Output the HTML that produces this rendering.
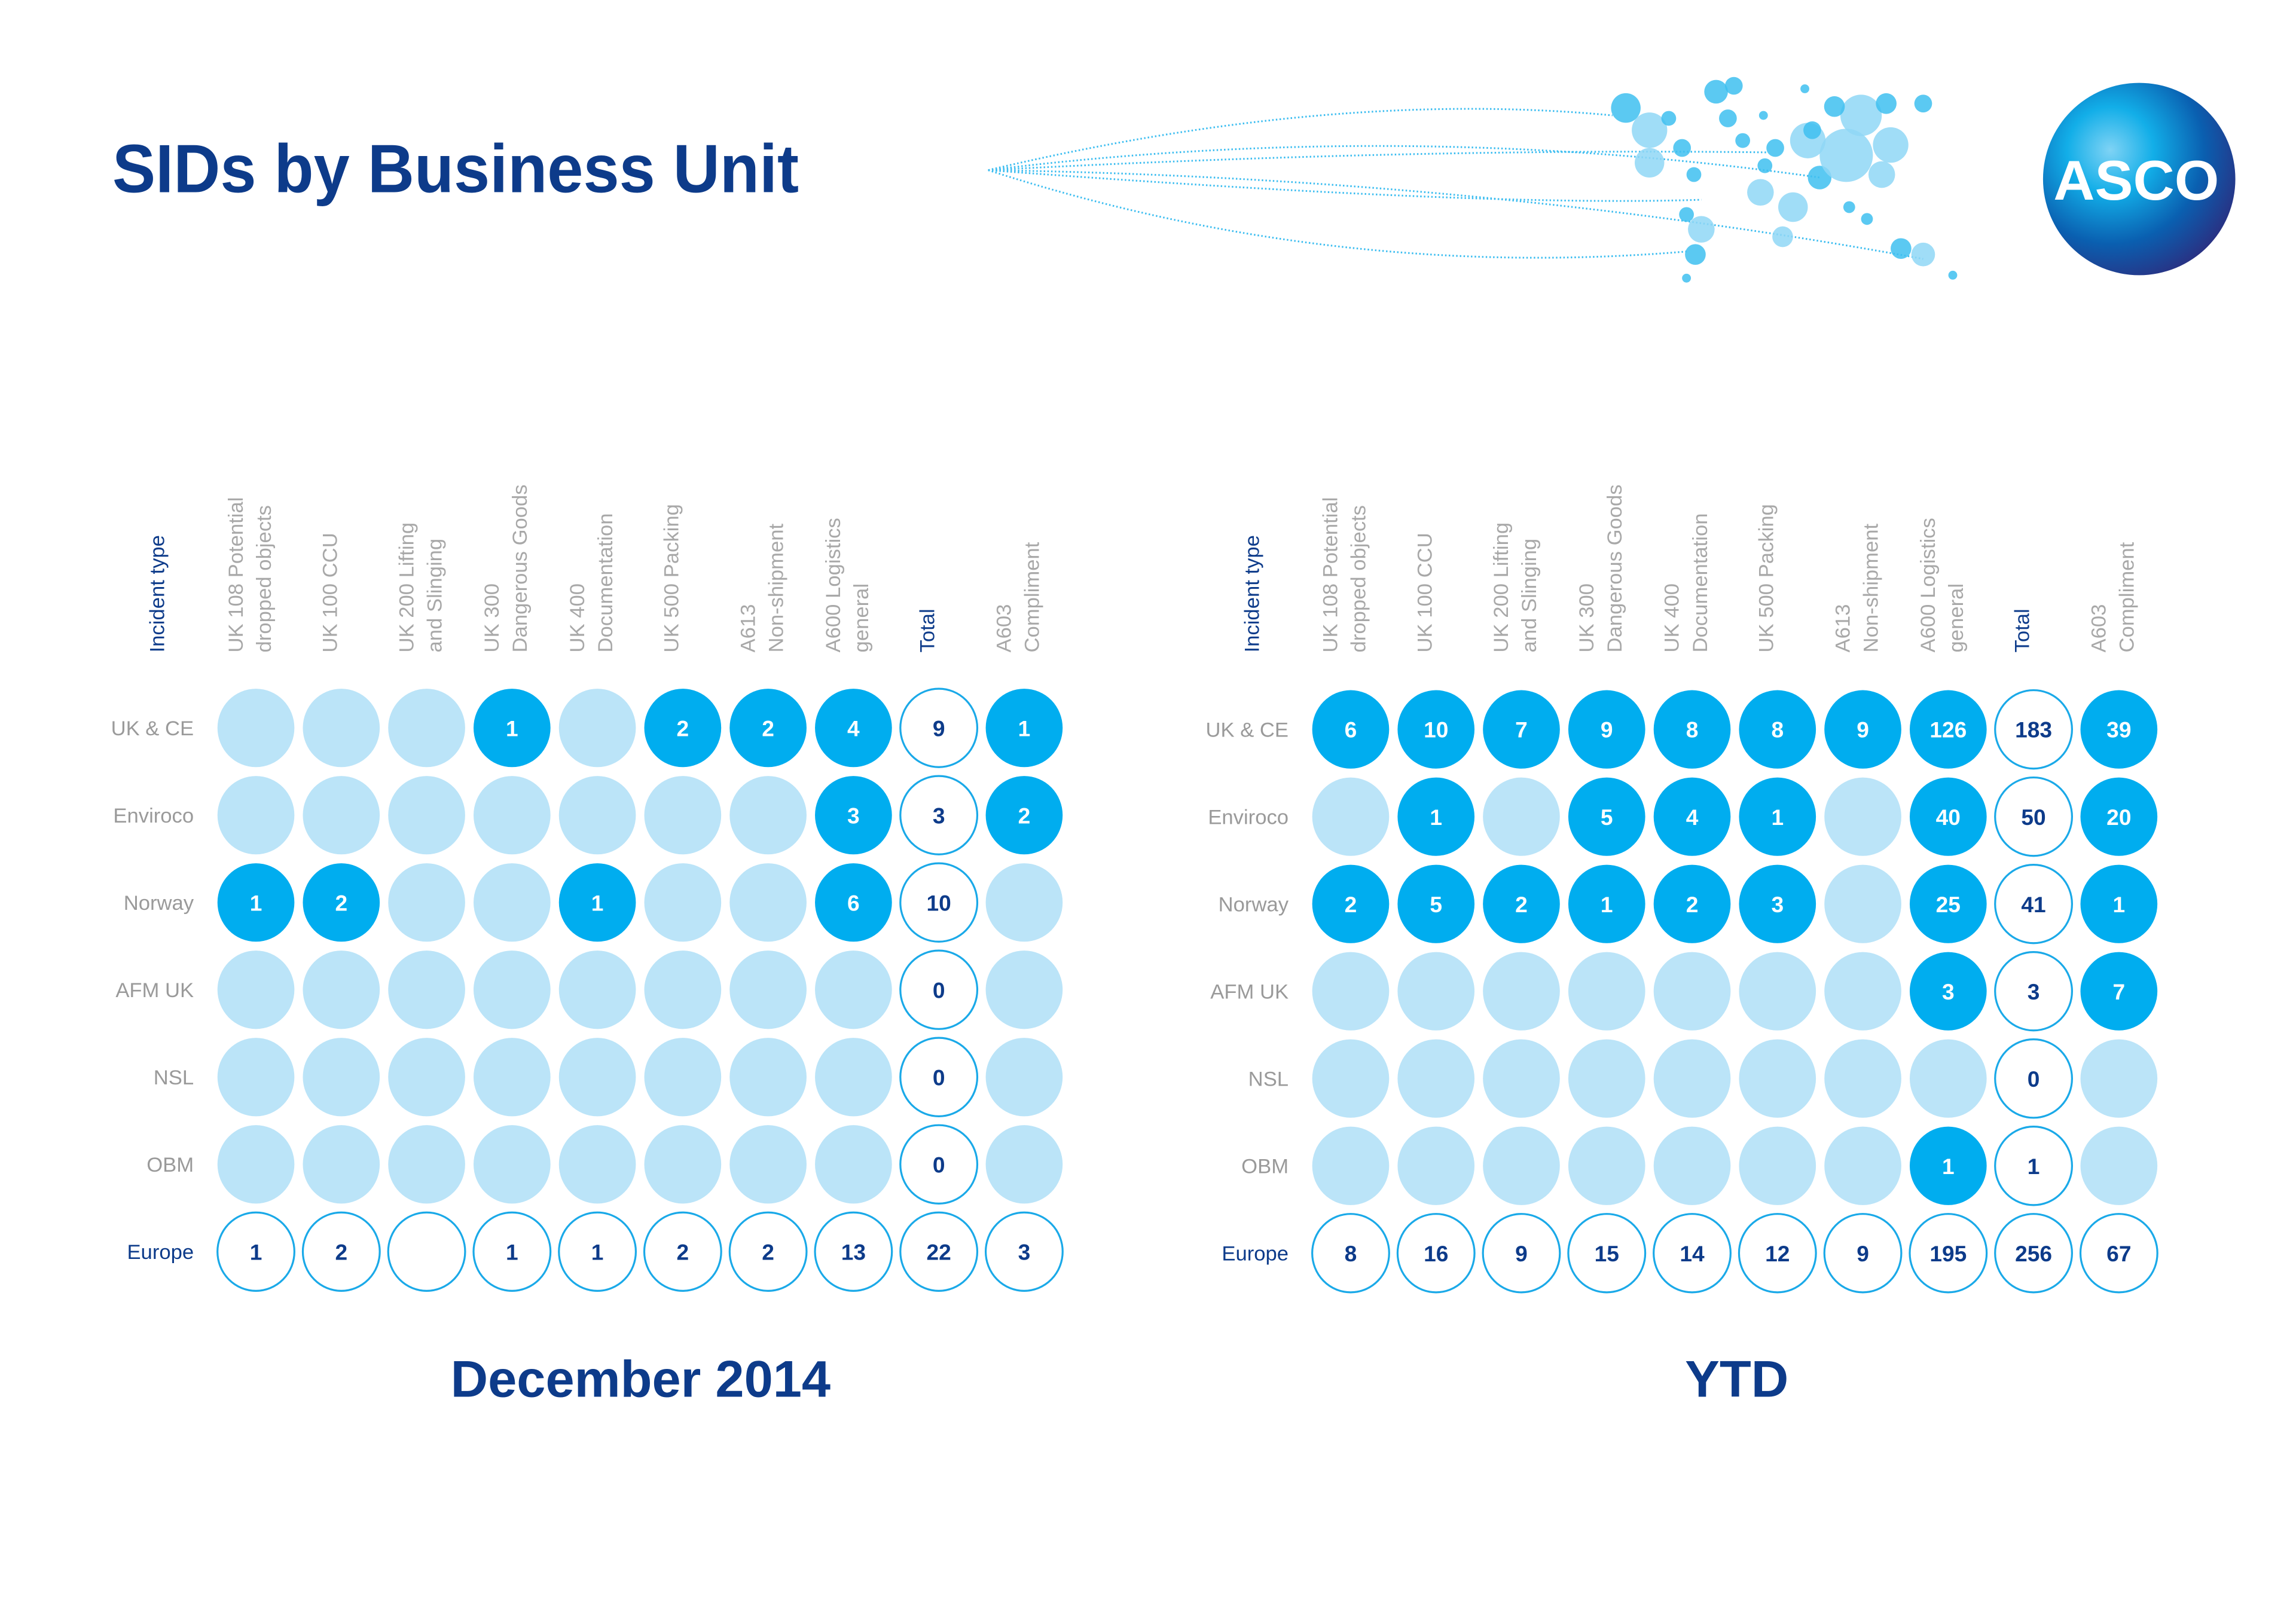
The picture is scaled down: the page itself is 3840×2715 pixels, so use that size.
<!DOCTYPE html>
<html><head><meta charset="utf-8"><style>
html,body{margin:0;padding:0;background:#fff}
svg{display:block}
text{font-family:"Liberation Sans",sans-serif}
</style></head><body>
<svg id="chart" xmlns="http://www.w3.org/2000/svg" width="3840" height="2715" viewBox="0 0 1552 1097" preserveAspectRatio="none">
<defs>
<radialGradient id="lg" cx="0.35" cy="0.35" r="0.75">
<stop offset="0" stop-color="#7fd3f5"/><stop offset="0.3" stop-color="#12aee8"/><stop offset="0.65" stop-color="#0a5fb0"/><stop offset="1" stop-color="#2e2a7c"/>
</radialGradient>
</defs>
<rect width="1552" height="1097" fill="#fff"/>
<text x="76" y="130" font-size="46" font-weight="bold" fill="#0d3b8a" textLength="464" lengthAdjust="spacingAndGlyphs">SIDs by Business Unit</text>
<g id="map"></g>
<g>
<circle cx="1446" cy="121" r="65" fill="url(#lg)"/>
<text x="1444" y="135" text-anchor="middle" font-size="38" font-weight="bold" fill="#fff" textLength="112" lengthAdjust="spacingAndGlyphs">ASCO</text>
</g>
<g id="left"></g>
<g id="right"></g>
<text x="433" y="944" text-anchor="middle" font-size="35" font-weight="bold" fill="#0d3b8a">December 2014</text>
<text x="1174" y="944" text-anchor="middle" font-size="35" font-weight="bold" fill="#0d3b8a">YTD</text>
</svg>
<script>
const columns = [["UK 108 Potential","dropped objects"],["UK 100 CCU"],["UK 200 Lifting","and Slinging"],["UK 300","Dangerous Goods"],["UK 400","Documentation"],["UK 500 Packing"],["A613","Non-shipment"],["A600 Logistics","general"],["Total"],["A603","Compliment"]];
const rows = ["UK & CE","Enviroco","Norway","AFM UK","NSL","OBM","Europe"];
const decUKCE = [null,null,null,1,null,2,2,4,9,1];
const decEnviroco = [null,null,null,null,null,null,null,3,3,2];
const decNorway = [1,2,null,null,1,null,null,6,10,null];
const decAFM = [null,null,null,null,null,null,null,null,0,null];
const decNSL = [null,null,null,null,null,null,null,null,0,null];
const decOBM = [null,null,null,null,null,null,null,null,0,null];
const decEurope = [1,2,null,1,1,2,2,13,22,3];
const ytdUKCE = [6,10,7,9,8,8,9,126,183,39];
const ytdEnviroco = [null,1,null,5,4,1,null,40,50,20];
const ytdNorway = [2,5,2,1,2,3,null,25,41,1];
const ytdAFM = [null,null,null,null,null,null,null,3,3,7];
const ytdNSL = [null,null,null,null,null,null,null,null,0,null];
const ytdOBM = [null,null,null,null,null,null,null,1,1,null];
const ytdEurope = [8,16,9,15,14,12,9,195,256,67];

const NS="http://www.w3.org/2000/svg";
function mk(tag,attrs,parent){const e=document.createElementNS(NS,tag);for(const k in attrs)e.setAttribute(k,attrs[k]);parent.appendChild(e);return e;}
function drawGrid(g,x0,y0,data,prefix){
  const dx=57.7, dy=59, r=26.5;
  const xs=i=>x0+i*dx, ys=j=>y0+j*dy;
  const it=mk('text',{x:xs(0)-62,y:441,transform:`rotate(-90 ${xs(0)-62} 441)`,'font-size':14,fill:'#0d3b8a'},g);
  
  
  it.textContent='Incident type';
  columns.forEach((c,i)=>{
    c.forEach((line,k)=>{
      const lx=xs(i)-3+(c.length===1?0:(k===0?-6:13));
      const t=mk('text',{x:lx,y:441,transform:`rotate(-90 ${lx} 441)`,'font-size':14,fill:i===8?'#0d3b8a':'#a8a8a8'},g);
      
      
      t.textContent=line;
    });
  });
  rows.forEach((rn,j)=>{
    const t=mk('text',{x:xs(0)-42,y:ys(j)+5,'text-anchor':'end','font-size':14,fill:j===6?'#0d3b8a':'#9a9a9a'},g);
    
    
    t.textContent=rn;
    data[j].forEach((v,i)=>{
      const outline=(j===6||i===8);
      const filled=!outline&&v!==null;
      const c=mk('ellipse',{cx:xs(i),cy:ys(j),rx:r-0.5,ry:r,fill:outline?'#fff':(filled?'#00adef':'#bbe4f8'),stroke:outline?'#1aa9e8':'none','stroke-width':1.3},g);
      
      
      if(v!==null){
        const n=mk('text',{x:xs(i),y:ys(j)+5.5,'text-anchor':'middle','font-size':15,'font-weight':'bold',fill:outline?'#0d3b8a':'#fff'},g);
        
        
        n.textContent=v;
      }
    });
  });
}
drawGrid(document.getElementById('left'),173,492,[decUKCE,decEnviroco,decNorway,decAFM,decNSL,decOBM,decEurope],'dec');
drawGrid(document.getElementById('right'),913,493,[ytdUKCE,ytdEnviroco,ytdNorway,ytdAFM,ytdNSL,ytdOBM,ytdEurope],'ytd');

// decorative map
const m=document.getElementById('map');
const curves=[[668,115,900,60,1090,78],[668,115,950,100,1195,103],[668,115,900,190,1140,170],[668,115,1000,120,1300,175],[668,115,950,80,1230,120],[668,115,1000,140,1150,135]];
curves.forEach(c=>{const p=mk('path',{d:`M${c[0]} ${c[1]} Q${c[2]} ${c[3]} ${c[4]} ${c[5]}`,fill:'none',stroke:'#3cbdf0','stroke-width':1.2,'stroke-dasharray':'1 1.5'},m);});
const bub=[[1099,73,10,1],[1115,88,12,.5],[1115,110,10,.5],[1128,80,5,1],[1137,100,6,1],[1160,62,8,1],[1172,58,6,1],[1168,80,6,1],[1145,118,5,1],[1150,155,9,.5],[1146,172,7,1],[1140,145,5,1],[1190,130,9,.5],[1200,100,6,1],[1212,140,10,.5],[1222,95,12,.5],[1230,120,8,1],[1248,105,18,.45],[1258,78,14,.5],[1275,70,7,1],[1278,98,12,.5],[1272,118,9,.6],[1300,70,6,1],[1240,72,7,1],[1205,160,7,.7],[1285,168,7,1],[1300,172,8,.6],[1225,88,6,1],[1193,112,5,1],[1178,95,5,1],[1320,186,3,1],[1140,188,3,1],[1250,140,4,1],[1262,148,4,1],[1220,60,3,1],[1192,78,3,1]];
bub.forEach(b=>mk('circle',{cx:b[0],cy:b[1],r:b[2],fill:b[3]>0.8?'#3ec0f0':'#8fd7f6','fill-opacity':0.85},m));
</script>
</body></html>
